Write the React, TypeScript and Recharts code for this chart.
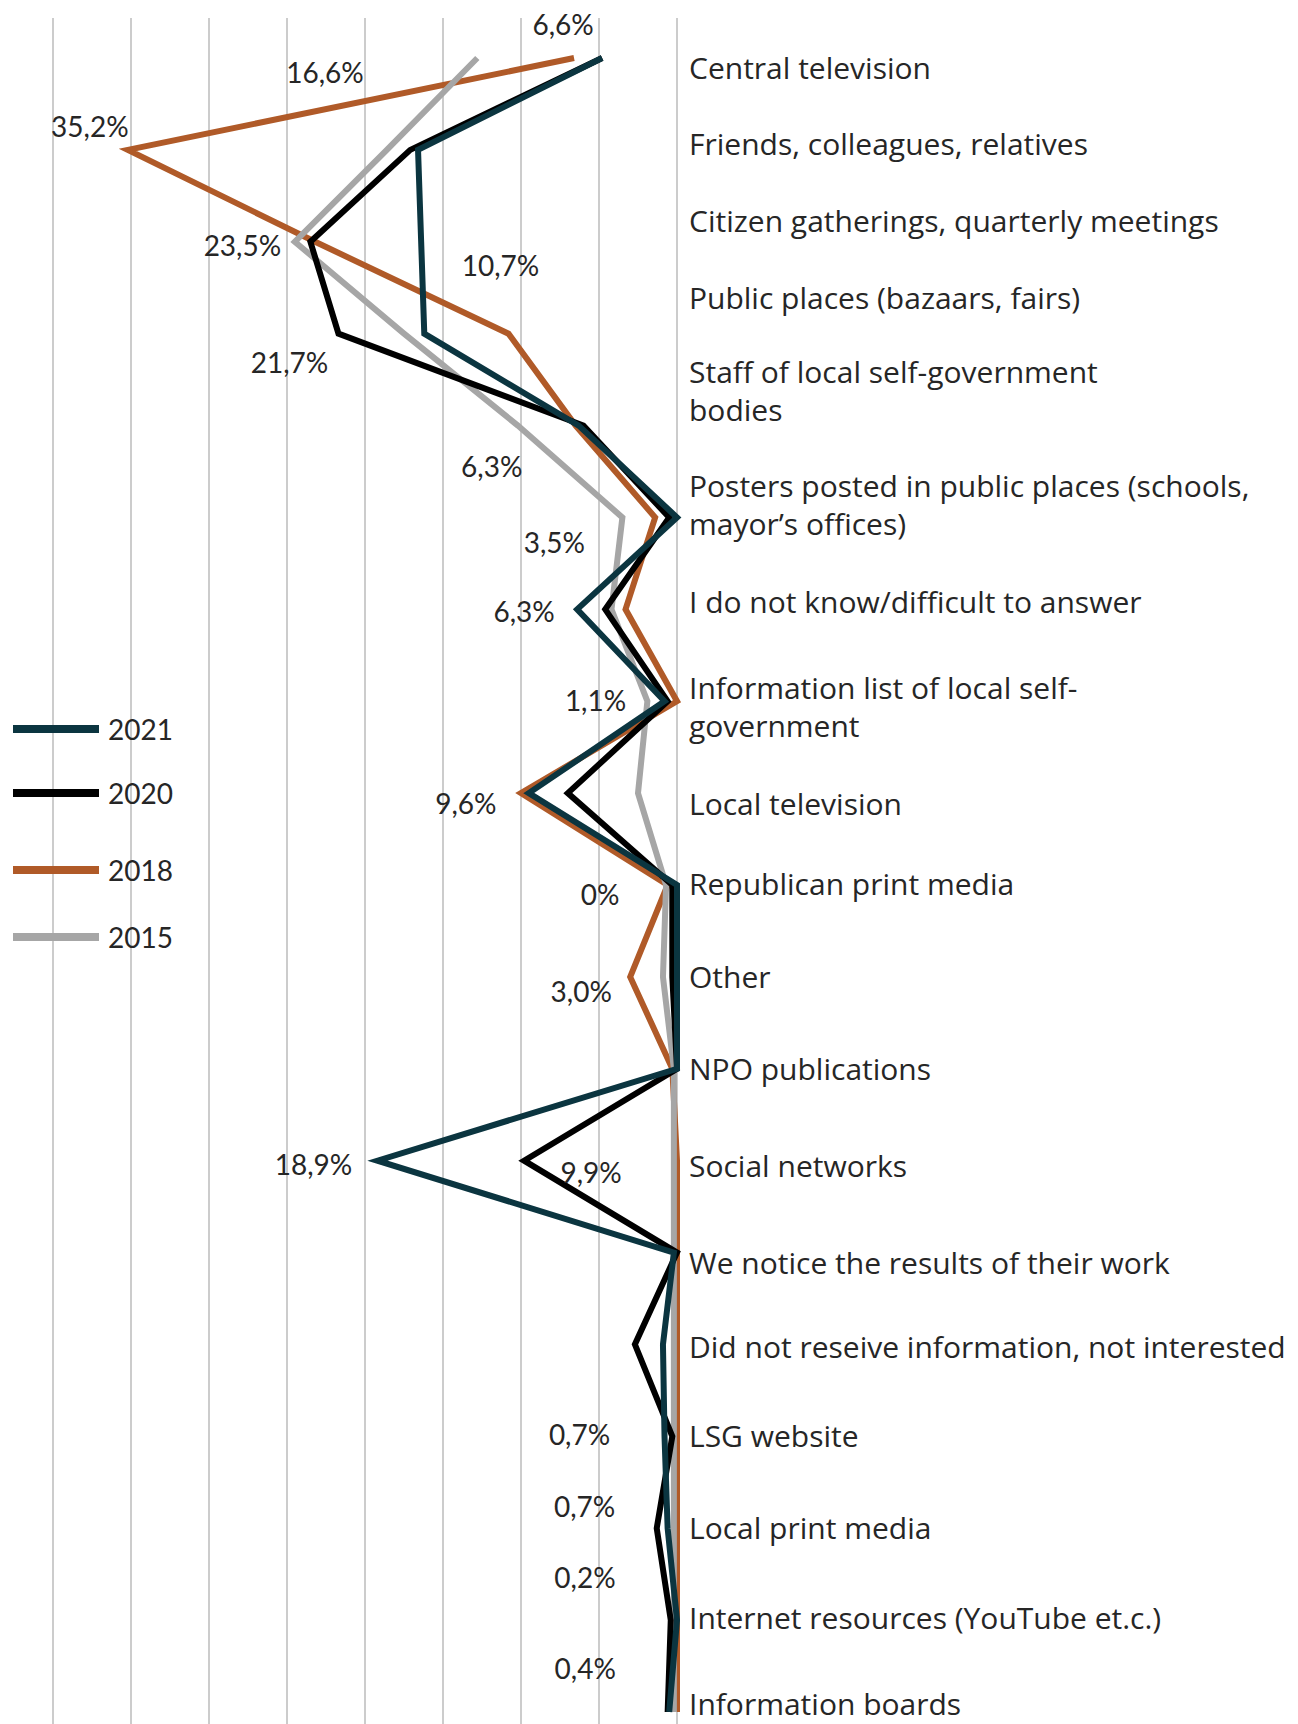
import { LineChart, Line, XAxis, YAxis, CartesianGrid, LabelList } from 'recharts';

const categories = [
  'Central television',
  'Friends, colleagues, relatives',
  'Citizen gatherings, quarterly meetings',
  'Public places (bazaars, fairs)',
  'Staff of local self-government\nbodies',
  'Posters posted in public places (schools,\nmayor’s offices)',
  'I do not know/difficult to answer',
  'Information list of local self-\ngovernment',
  'Local television',
  'Republican print media',
  'Other',
  'NPO publications',
  'Social networks',
  'We notice the results of their work',
  'Did not reseive information, not interested',
  'LSG website',
  'Local print media',
  'Internet resources (YouTube et.c.)',
  'Information boards',
];

const y2021 = [4.8, 16.6, 16.4, 16.2, 6.3, 0, 6.4, 0.8, 9.5, 0, 0, 0, 19.2, 0.2, 0.9, 0.8, 0.6, 0, 0.5];
const y2020 = [4.8, 17.1, 23.5, 21.7, 6.0, 0.5, 4.6, 0.6, 7.0, 0.3, 0.3, 0, 9.8, 0, 2.7, 0.3, 1.3, 0.4, 0.6];
const y2018 = [6.6, 35.2, 23.2, 10.8, 6.5, 1.4, 3.3, 0, 10.0, 0.6, 3.0, 0.3, 0, 0, 0, 0, 0, 0, 0];
const y2015 = [12.8, 18.6, 24.5, 17.5, 10.2, 3.5, 4.2, 1.9, 2.5, 0.7, 0.9, 0.2, 0.2, 0.2, 0.2, 0.2, 0.2, 0.2, 0.2];

const xTicks = [0, 5, 10, 15, 20, 25, 30, 35, 40];

// value notes, per series and row
const notes2021 = ['', '16,6%', '', '', '6,3%', '', '6,3%', '1,1%', '9,6%', '0%', '', '', '18,9%', '', '', '0,7%', '0,7%', '0,2%', '0,4%'];
const notes2020 = ['', '', '23,5%', '21,7%', '', '', '', '', '', '', '', '', '9,9%', '', '', '', '', '', ''];
const notes2018 = ['6,6%', '35,2%', '', '10,7%', '', '', '', '', '', '', '3,0%', '', '', '', '', '', '', '', ''];
const notes2015 = ['', '', '', '', '', '3,5%', '', '', '', '', '', '', '', '', '', '', '', '', ''];

// where each note sits relative to its point
const noteShift: Record<string, [number, number]> = {
  '2018-0': [-11, -34],
  '2018-1': [-38, -24],
  '2018-3': [-8, -69],
  '2018-10': [-49, 14],
  '2020-2': [-68, 3],
  '2020-3': [-49, 28],
  '2020-12': [67, 11],
  '2015-5': [-68, 25],
  '2021-1': [-93, -78],
  '2021-4': [-87, 40],
  '2021-6': [-53, 2],
  '2021-7': [-69, -1],
  '2021-8': [-63, 10],
  '2021-9': [-77, 9],
  '2021-12': [-64, 3],
  '2021-15': [-85, -2],
  '2021-16': [-83, -22],
  '2021-17': [-92, -43],
  '2021-18': [-84, -44],
};

// category labels are not always centred on their row
const tickShift = [9, -7, -22, -37, -36, -13, -8, 5, 10, -2, -1, -1, 4, 9, 2, -1, -1, -3, -9];

const data = categories.map((name, i) => ({
  name,
  y2021: y2021[i],
  y2020: y2020[i],
  y2018: y2018[i],
  y2015: y2015[i],
}));

const FONT = 'Lato, sans-serif';
const CAT_FONT = '"Open Sans", sans-serif';
const TEXT = '#262626';

const series = [
  { key: 'y2018', year: '2018', color: '#B05A28', notes: notes2018 },
  { key: 'y2015', year: '2015', color: '#A6A6A6', notes: notes2015 },
  { key: 'y2020', year: '2020', color: '#000000', notes: notes2020 },
  { key: 'y2021', year: '2021', color: '#0B3540', notes: notes2021 },
];

const legendOrder = ['2021', '2020', '2018', '2015'];
const legendGap = [0, 64, 77, 67];

const CategoryTick = ({ x, y, payload, index }: any) => {
  const i = payload?.index ?? index;
  const lines = String(payload.value).split('\n');
  const lh = 38;
  const y0 = y + (tickShift[i] ?? 0) - ((lines.length - 1) * lh) / 2;
  return (
    <text x={x} y={y0} fill={TEXT} fontSize={30} fontFamily={CAT_FONT} dominantBaseline="central">
      {lines.map((l, k) => (
        <tspan key={k} x={x} y={y0 + k * lh}>
          {l}
        </tspan>
      ))}
    </text>
  );
};

const makeNote = (year: string, notes: string[]) => (props: any) => {
  const { x, y, index } = props;
  const text = notes[index];
  if (!text) return null;
  const [dx, dy] = noteShift[`${year}-${index}`] ?? [0, 0];
  return (
    <text
      key={`${year}-${index}`}
      x={x + dx}
      y={y + dy}
      fill={TEXT}
      fontSize={28}
      fontFamily={FONT}
      textAnchor="middle"
      dominantBaseline="central"
    >
      {text}
    </text>
  );
};

const YearLegend = () => (
  <div style={{ position: 'absolute', left: 13, top: 713, fontFamily: FONT }}>
    {legendOrder.map((year, i) => {
      const s = series.find(d => d.year === year)!;
      return (
        <div key={year} style={{ display: 'flex', alignItems: 'center', marginTop: legendGap[i] - (i ? 32 : 0), height: 32 }}>
          <div style={{ width: 86, height: 8, background: s.color }} />
          <span style={{ marginLeft: 9, fontSize: 28, color: TEXT }}>{year}</span>
        </div>
      );
    })}
  </div>
);

export default function App() {
  return (
    <div style={{ position: 'absolute', left: 0, top: 0, width: 1298, height: 1724, overflow: 'hidden', background: '#fff' }}>
      <LineChart
        layout="vertical"
        width={1298}
        height={1724}
        data={data}
        margin={{ top: 18, right: 0, bottom: 0, left: 53 }}
      >
        <CartesianGrid vertical horizontal={false} stroke="#cccccc" strokeWidth={2} />
        <XAxis
          type="number"
          domain={[0, 40]}
          ticks={xTicks}
          reversed
          height={0}
          tick={() => <g />}
          axisLine={false}
          tickLine={false}
        />
        <YAxis
          type="category"
          dataKey="name"
          orientation="right"
          width={621}
          interval={0}
          padding={{ top: 40, bottom: 12 }}
          axisLine={false}
          tickLine={false}
          tickSize={0}
          tickMargin={12}
          tick={<CategoryTick />}
        />
        {series.map(s => (
          <Line
            key={s.key}
            type="linear"
            dataKey={s.key}
            name={s.year}
            stroke={s.color}
            strokeWidth={6}
            dot={false}
            activeDot={false}
            isAnimationActive={false}
          >
            <LabelList dataKey={s.key} content={makeNote(s.year, s.notes)} />
          </Line>
        ))}
      </LineChart>
      <YearLegend />
    </div>
  );
}
